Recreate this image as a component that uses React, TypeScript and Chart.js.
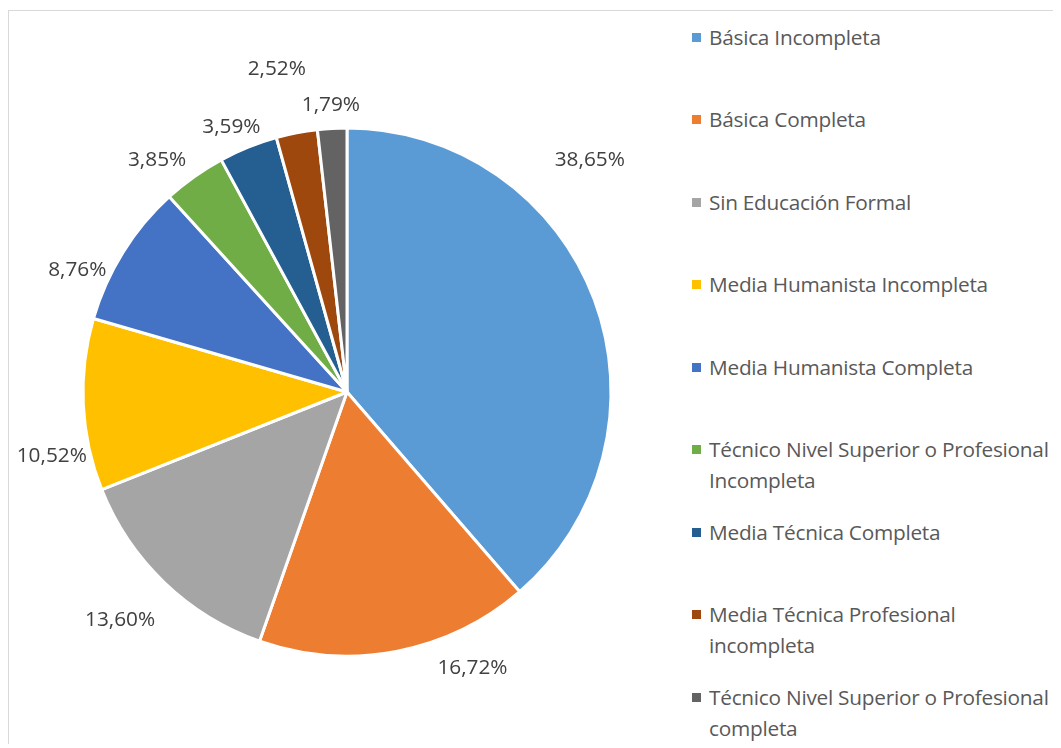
import React, { useEffect, useRef } from "react";
import { Chart, registerables } from "chart.js";

Chart.register(...registerables);

const categories = [
  "Básica Incompleta",
  "Básica Completa",
  "Sin Educación Formal",
  "Media Humanista Incompleta",
  "Media Humanista Completa",
  "Técnico Nivel Superior o Profesional Incompleta",
  "Media Técnica Completa",
  "Media Técnica Profesional incompleta",
  "Técnico Nivel Superior o Profesional completa",
];

const values = [38.65, 16.72, 13.6, 10.52, 8.76, 3.85, 3.59, 2.52, 1.79];

const colors = [
  "#5B9BD5",
  "#ED7D31",
  "#A5A5A5",
  "#FFC000",
  "#4472C4",
  "#70AD47",
  "#255E91",
  "#9E480E",
  "#636363",
];

// label placement relative to each slice (best-fit style nudges)
const labelAngleShift = [-23.3, -13.7, 1, -9.4, -7.6, -3.9, -1.6, -1.3, 0];
const labelRadialGap = [72, 39, 58, 38, 32, 36, 25, 66, 23];

const FONT = "'Open Sans', 'Noto Sans', sans-serif";

const fmt = (v: number) => v.toFixed(2).replace(".", ",") + "%";

const labelPlugin = {
  id: "outsideLabels",
  afterDatasetsDraw(chart: any) {
    const ctx = chart.ctx;
    const meta = chart.getDatasetMeta(0);
    ctx.save();
    ctx.font = `20.8px ${FONT}`;
    ctx.fillStyle = "#404040";
    ctx.textAlign = "center";
    ctx.textBaseline = "middle";
    meta.data.forEach((arc: any, i: number) => {
      const { x, y, startAngle, endAngle, outerRadius } = arc.getProps(
        ["x", "y", "startAngle", "endAngle", "outerRadius"],
        true
      );
      const mid = (startAngle + endAngle) / 2 + (labelAngleShift[i] * Math.PI) / 180;
      const d = outerRadius + labelRadialGap[i];
      ctx.fillText(fmt(values[i]), x + Math.cos(mid) * d, y + Math.sin(mid) * d);
    });
    ctx.restore();
  },
};

export default function App() {
  const ref = useRef<HTMLCanvasElement>(null);

  useEffect(() => {
    if (!ref.current) return;
    const chart = new Chart(ref.current, {
      type: "pie",
      data: {
        labels: categories,
        datasets: [
          {
            data: values,
            backgroundColor: colors,
            borderColor: "#FFFFFF",
            borderWidth: 3,
          },
        ],
      },
      options: {
        responsive: false,
        animation: false,
        layout: { padding: { left: 72.5, right: 72.5, top: 115.5, bottom: 88.5 } },
        plugins: {
          legend: { display: false },
          tooltip: { enabled: false },
        },
      },
      plugins: [labelPlugin],
    });
    return () => chart.destroy();
  }, []);

  return (
    <div
      style={{
        position: "relative",
        top: 2,
        width: 1045,
        height: 736,
        boxSizing: "border-box",
        borderTop: "1px solid #D9D9D9",
        borderLeft: "1px solid #D9D9D9",
        fontFamily: FONT,
        overflow: "hidden",
      }}
    >
      <canvas
        ref={ref}
        width={676}
        height={735}
        style={{ position: "absolute", left: 0, top: 0, width: 676, height: 735 }}
      />
      {categories.map((c, i) => (
        <div
          key={c}
          style={{
            position: "absolute",
            left: 683,
            top: 26 - 15.5 + 82.5 * i,
            width: 362,
            display: "flex",
            alignItems: "flex-start",
          }}
        >
          <span
            style={{
              display: "inline-block",
              width: 9,
              height: 9,
              background: colors[i],
              marginTop: 11,
              marginRight: 8,
              flex: "0 0 auto",
            }}
          />
          <span
            style={{
              fontSize: 20.8,
              lineHeight: "31px",
              letterSpacing: "-0.25px",
              color: "#595959",
              width: 345,
              whiteSpace: "normal",
            }}
          >
            {c}
          </span>
        </div>
      ))}
    </div>
  );
}
